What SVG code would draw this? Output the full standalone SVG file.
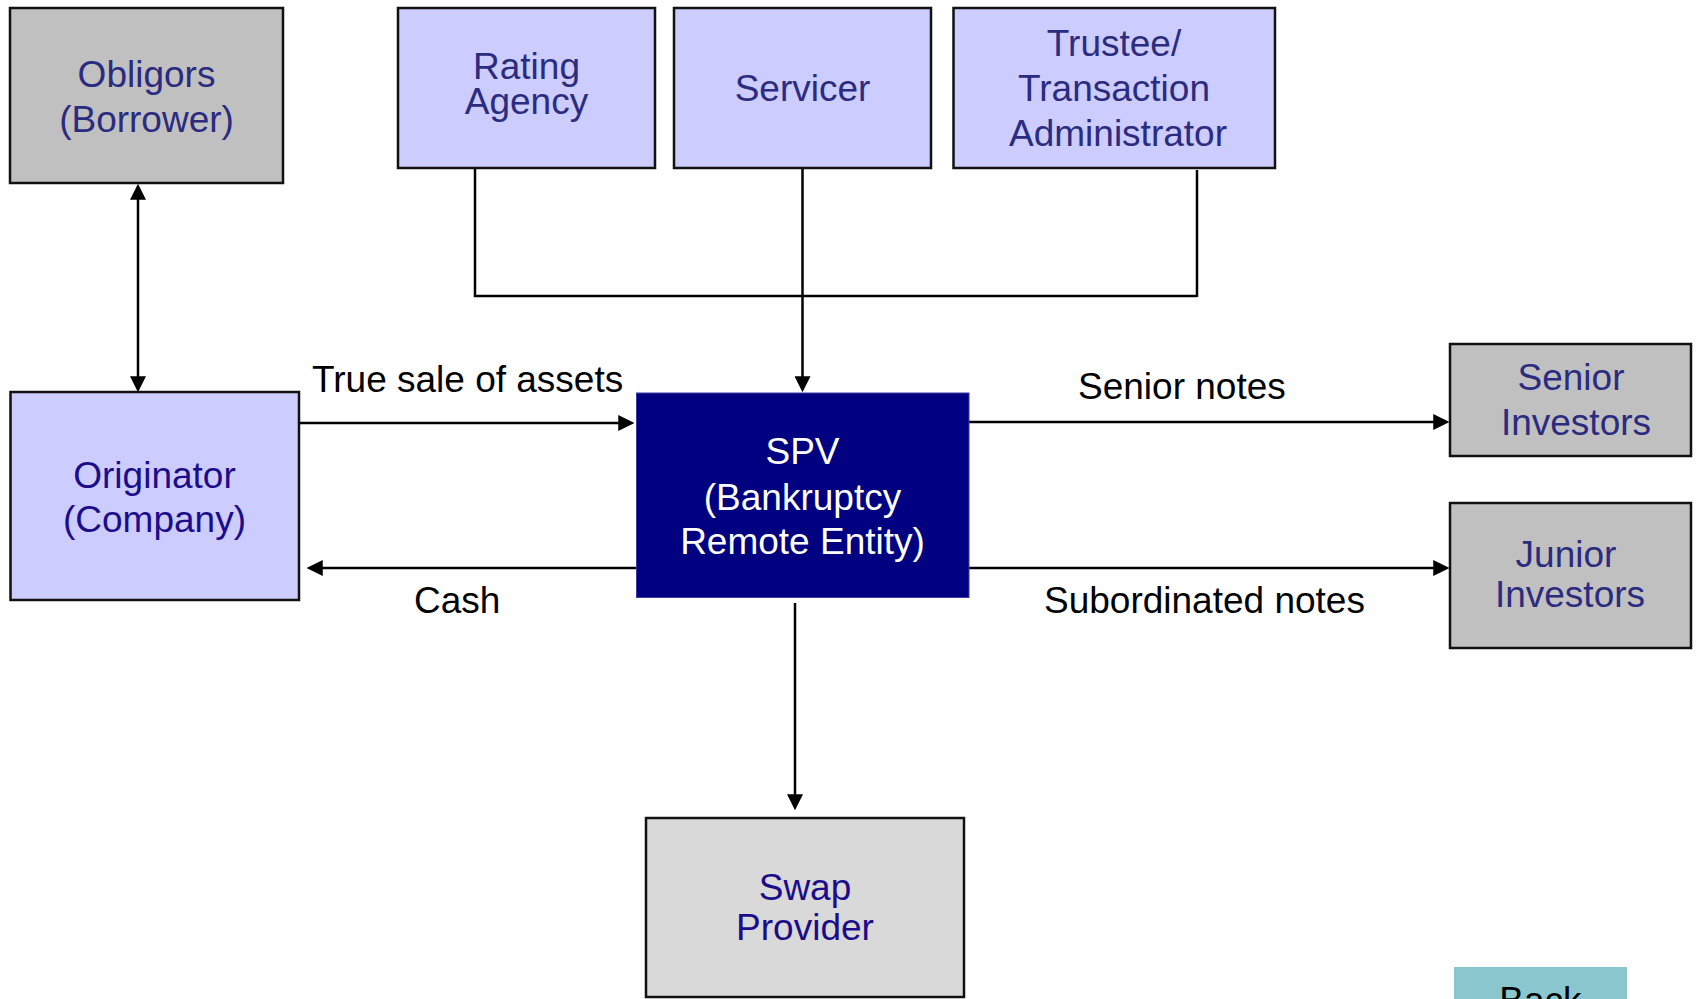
<svg xmlns="http://www.w3.org/2000/svg" width="1697" height="999" viewBox="0 0 1697 999">
  <style>
    .box { stroke: #111; stroke-width: 2.5; }
    .grey { fill: #C0C0C0; }
    .lilac { fill: #CCCCFF; }
    .light { fill: #D9D9D9; }
    .spv { fill: #000080; stroke: #3a3aa8; stroke-width: 1; }
    text { font-family: "Liberation Sans", Arial, sans-serif; font-size: 37px; }
    .t { text-anchor: middle; }
    .navy { fill: #2B2B80; }
    .ink { fill: #1C0C8C; }
    .white { fill: #FFFFFF; }
    .lbl { fill: #000000; }
    .link { stroke: #000; stroke-width: 2.5; fill: none; }
    .arrow { marker-end: url(#head); }
  </style>
  <defs>
    <marker id="head" markerUnits="userSpaceOnUse" markerWidth="16" markerHeight="16" viewBox="0 0 15 15" refX="11" refY="7.5" orient="auto-start-reverse">
      <path d="M0,0 L15,7.5 L0,15 z" fill="#000"/>
    </marker>
  </defs>

  <rect width="1697" height="999" fill="#FFFFFF"/>

  <!-- connectors -->
  <g id="connectors">
    <line class="link" x1="138" y1="188" x2="138" y2="388" marker-start="url(#head)" marker-end="url(#head)"/>
    <polyline class="link" points="475,168 475,296 1197,296"/>
    <line class="link" x1="1197" y1="170" x2="1197" y2="297"/>
    <line class="link arrow" x1="802.5" y1="168" x2="802.5" y2="388"/>
    <line class="link arrow" x1="300" y1="423" x2="630" y2="423"/>
    <line class="link arrow" x1="636" y1="568" x2="311" y2="568"/>
    <line class="link arrow" x1="969" y1="422" x2="1445" y2="422"/>
    <line class="link arrow" x1="969" y1="568" x2="1445" y2="568"/>
    <line class="link arrow" x1="795" y1="603" x2="795" y2="806"/>
    <text class="lbl" x="312" y="392">True sale of assets</text>
    <text class="lbl" x="414" y="613">Cash</text>
    <text class="lbl" x="1078" y="399">Senior notes</text>
    <text class="lbl" x="1044" y="613">Subordinated notes</text>
  </g>

  <g id="obligors">
    <rect class="box grey" x="10" y="8" width="273" height="175"/>
    <text class="t navy" x="146.5" y="87">Obligors</text>
    <text class="t navy" x="146.5" y="132">(Borrower)</text>
  </g>

  <g id="rating-agency">
    <rect class="box lilac" x="398" y="8" width="257" height="160"/>
    <text class="t navy" x="526.5" y="78.5">Rating</text>
    <text class="t navy" x="526.5" y="114">Agency</text>
  </g>

  <g id="servicer">
    <rect class="box lilac" x="674" y="8" width="257" height="160"/>
    <text class="t navy" x="802.5" y="101">Servicer</text>
  </g>

  <g id="trustee">
    <rect class="box lilac" x="953.5" y="8" width="321.5" height="160"/>
    <text class="t navy" x="1114" y="56">Trustee/</text>
    <text class="t navy" x="1114" y="101">Transaction</text>
    <text class="t navy" x="1118" y="146">Administrator</text>
  </g>

  <g id="originator">
    <rect class="box lilac" x="10.5" y="392" width="288.5" height="208"/>
    <text class="t ink" x="154.5" y="488">Originator</text>
    <text class="t ink" x="154.5" y="532">(Company)</text>
  </g>

  <g id="spv">
    <rect class="spv" x="636.5" y="393" width="332.5" height="204.5"/>
    <text class="t white" x="802.5" y="464">SPV</text>
    <text class="t white" x="802.5" y="510">(Bankruptcy</text>
    <text class="t white" x="802.5" y="554">Remote Entity)</text>
  </g>

  <g id="senior-investors">
    <rect class="box grey" x="1450" y="344" width="241" height="112"/>
    <text class="t navy" x="1571" y="390">Senior</text>
    <text class="t navy" x="1576" y="435">Investors</text>
  </g>

  <g id="junior-investors">
    <rect class="box grey" x="1450" y="503" width="241" height="145"/>
    <text class="t navy" x="1566" y="567">Junior</text>
    <text class="t navy" x="1570" y="607">Investors</text>
  </g>

  <g id="swap-provider">
    <rect class="box light" x="646" y="818" width="318" height="179"/>
    <text class="t ink" x="805" y="900">Swap</text>
    <text class="t ink" x="805" y="940">Provider</text>
  </g>

  <g id="back-button">
    <rect x="1454" y="967" width="173" height="40" fill="#8AC6CE"/>
    <text class="t lbl" x="1540.5" y="1013">Back</text>
  </g>
</svg>
